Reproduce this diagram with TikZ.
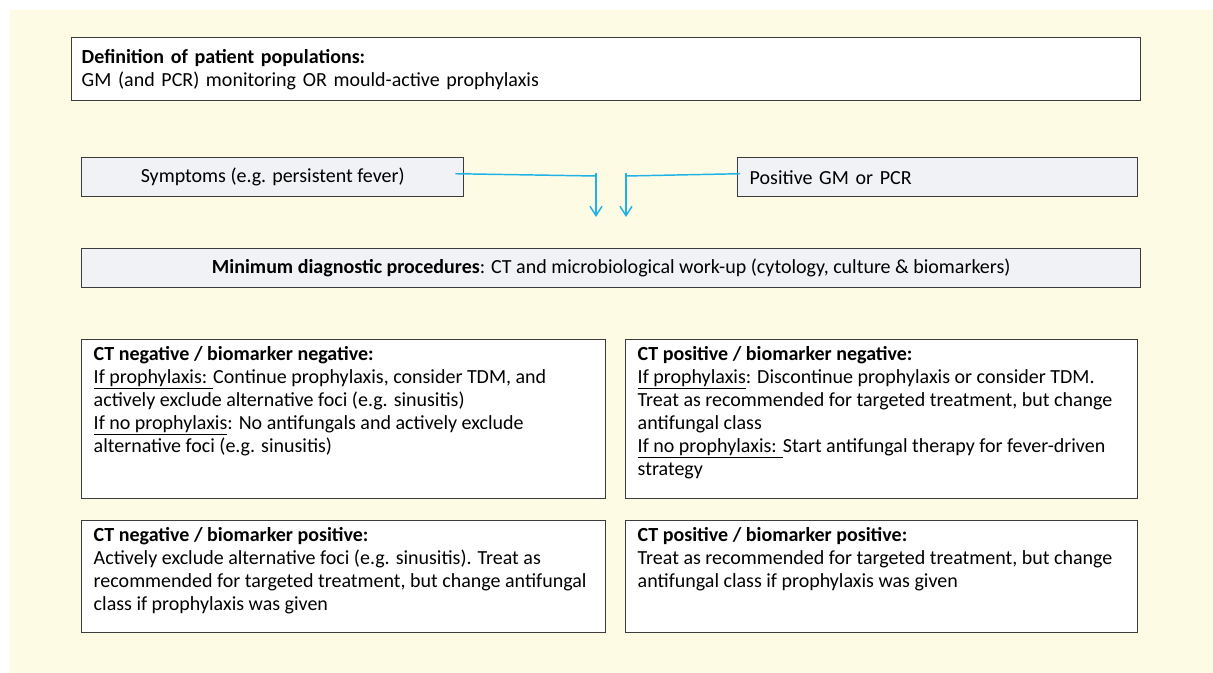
\documentclass[tikz,border=0pt]{standalone}
\usepackage{fontspec}
\setmainfont{Carlito}
\usetikzlibrary{arrows.meta}
\definecolor{bgyellow}{RGB}{254,251,228}
\definecolor{boxgrey}{RGB}{241,242,246}
\definecolor{flowblue}{RGB}{30,178,230}
\definecolor{framegrey}{RGB}{60,60,60}
\newcommand{\cellpar}[3]{\parbox[c][#1][t]{#2}{#3}}
\tikzstyle{frame} = [
  draw=framegrey,
  line width=1.1pt,
  fill=white,
  anchor=north west,
  inner sep=0pt,
]
\tikzstyle{greybox} = [
  frame,
  fill=boxgrey,
  minimum height=29.25pt,
]
\tikzstyle{finding} = [
  frame,
  inner xsep=9pt,
  inner ysep=5pt,
  align=left,
]
\tikzstyle{link} = [
  draw=flowblue,
  line width=1.1pt,
]

\begin{document}
\begin{tikzpicture}[
    x=0.75pt,
    y=-0.75pt,
    font=\fontsize{15}{17.25}\selectfont,
    >={Straight Barb[length=7pt,width=9pt]},
  ]
  % background
  \fill[white] (0,0) rectangle (1213,673);
  \fill[bgyellow] (10,10) rectangle (1213,673);

  \node[
    frame,
    inner xsep=7.5pt,
    align=left,
    text width=786.75pt,
    minimum height=47.25pt,
  ] (popdef) at (71,37)
  {\textbf{Definition of patient populations:}\\
   GM (and PCR) monitoring OR mould-active prophylaxis};

  \node[
    greybox,
    minimum width=286.5pt,
  ] (symp) at (81,157) {Symptoms (e.g. persistent fever)};
  \node[
    greybox,
    inner xsep=9pt,
    align=left,
    text width=282pt,
  ] (posgm) at (737,157) {Positive GM or PCR};

  \node[
    greybox,
    minimum width=794.25pt,
  ] (mindiag) at (81,248)
  {\textbf{Minimum diagnostic procedures}: CT and microbiological work-up (cytology, culture \& biomarkers)};

  % results
  \node[finding] (ctnn) at (81,339)
  {\cellpar{109.25pt}{375pt}{\textbf{CT negative / biomarker negative:}\\
   \underline{If prophylaxis: }Continue prophylaxis, consider TDM, and\\
   actively exclude alternative foci (e.g. sinusitis)\\
   \underline{If no prophylaxis}: No antifungals and actively exclude\\
   alternative foci (e.g. sinusitis)}};
  \node[finding] (ctpn) at (625,339)
  {\cellpar{109.25pt}{366pt}{\textbf{CT positive / biomarker negative:}\\
   \underline{If prophylaxis}: Discontinue prophylaxis or consider TDM.\\
   Treat as recommended for targeted treatment, but change\\
   antifungal class\\
   \underline{If no prophylaxis: }Start antifungal therapy for fever-driven\\
   strategy}};
  \node[finding] (ctnp) at (81,520)
  {\cellpar{74pt}{375pt}{\textbf{CT negative / biomarker positive:}\\
   Actively exclude alternative foci (e.g. sinusitis). Treat as\\
   recommended for targeted treatment, but change antifungal\\
   class if prophylaxis was given}};
  \node[finding] (ctpp) at (625,520)
  {\cellpar{74pt}{366pt}{\textbf{CT positive / biomarker positive:}\\
   Treat as recommended for targeted treatment, but change\\
   antifungal class if prophylaxis was given}};

  % arrows
  \coordinate (ljoin) at (596,176);
  \coordinate (ltop) at (596,173);
  \coordinate (lend) at (596,217);
  \coordinate (rjoin) at (626,176);
  \coordinate (rtop) at (626,173);
  \coordinate (rend) at (626,217);
  \draw[link] ([shift={(-9,-3.5)}]symp.east) -- (ljoin);
  \draw[link] ([shift={(3,-3.5)}]posgm.west) -- (rjoin);
  \draw[link,->] (ltop) -- (lend);
  \draw[link,->] (rtop) -- (rend);
\end{tikzpicture}
\end{document}
